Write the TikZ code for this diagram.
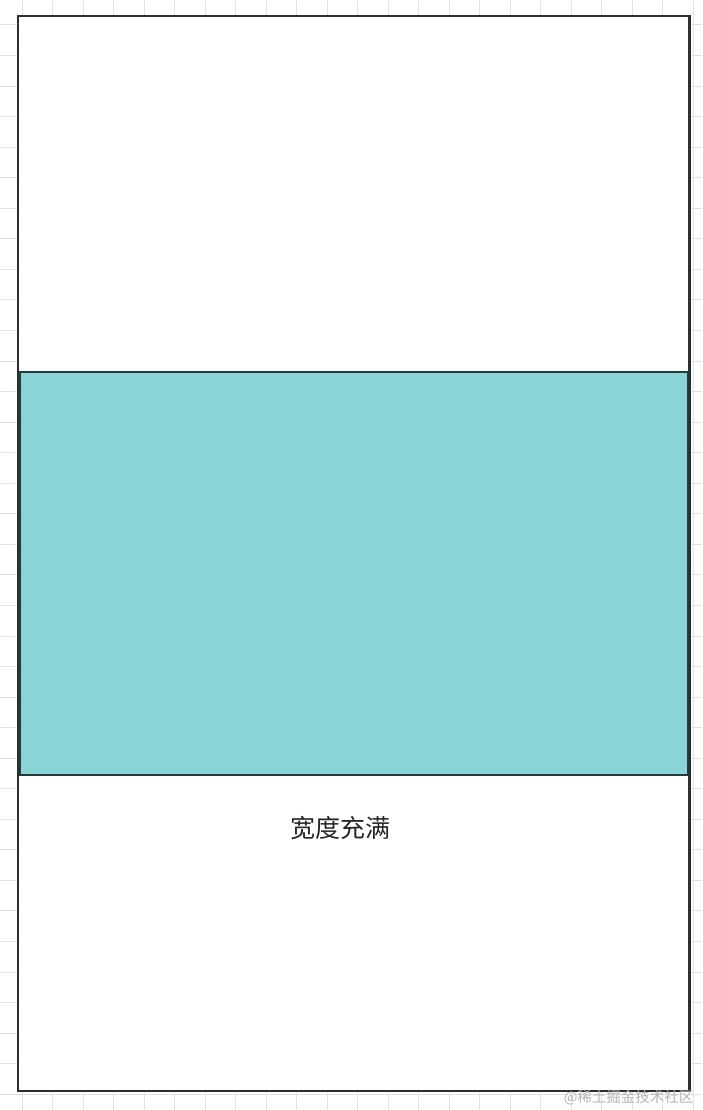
\documentclass[tikz,border=0pt]{standalone}
\usepackage{fontspec}
\newfontfamily\cjk{Noto Sans CJK SC}
\definecolor{gridc}{HTML}{E3E3E3}
\definecolor{framec}{HTML}{2B2F33}
\definecolor{tealc}{HTML}{8AD3D7}
\definecolor{tealborder}{HTML}{263A3E}
\definecolor{markc}{HTML}{B4B4B4}
\begin{document}
\begin{tikzpicture}[x=1pt,y=-1pt,
  outerbox/.style={draw=framec,line width=2.4pt,fill=white},
  innerbox/.style={draw=tealborder,line width=2pt,fill=tealc},
  label/.style={font=\cjk\fontsize{25}{28}\selectfont,text=black!85},
  watermark/.style={font=\cjk\fontsize{14.5}{16}\selectfont,text=markc,anchor=east}]
\useasboundingbox (0,0) rectangle (702,1110);
\fill[white] (0,0) rectangle (702,1110);
% background grid
\foreach \k in {0,...,22} {
  \draw[gridc,line width=1pt] ({22+30.5*\k},0) -- ({22+30.5*\k},1110);
}
\foreach \k in {0,...,36} {
  \draw[gridc,line width=1pt] (0,{25+30.55*\k}) -- (702,{25+30.55*\k});
}
% outer frame
\draw[outerbox] (18,16) rectangle (689.5,1091);
% inner teal block
\draw[innerbox] (19.5,372) rectangle (688,775);
\node[label] (lbl) at (340,828) {宽度充满};
\node[watermark] (wm) at (697,1098) {@稀土掘金技术社区};
\end{tikzpicture}
\end{document}
